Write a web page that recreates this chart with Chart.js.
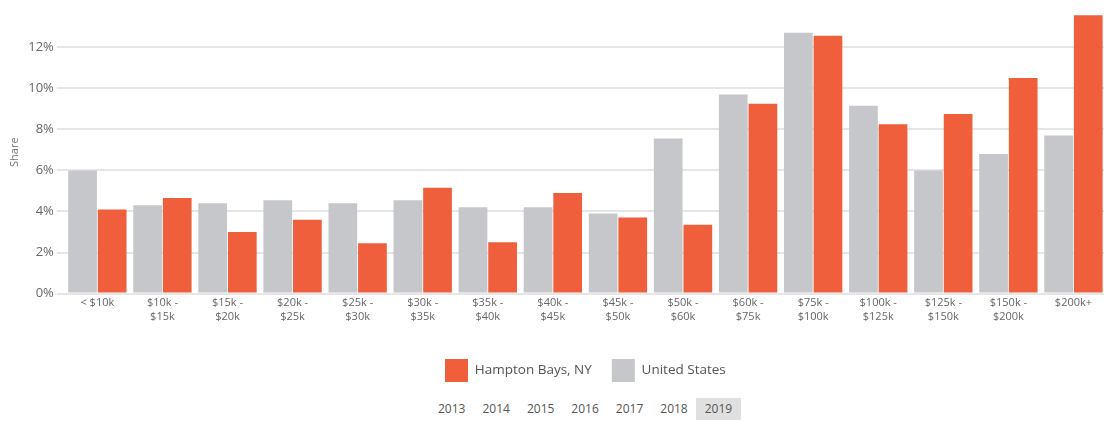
<!DOCTYPE html>
<html lang="en">
<head>
    <meta charset="UTF-8">
    <title>Household Income</title>
    <script src="https://cdn.jsdelivr.net/npm/chart.js"></script>
    <style>
        body { margin: 0; background: #fff; font-family: "Open Sans", Arial, sans-serif; overflow: hidden; }
        .grafico { position: relative; width: 1106px; height: 392px; }
        .anos { position: absolute; top: 398px; left: 429px; font-size: 12px; color: #555; white-space: nowrap; }
        .anos span { display: inline-block; padding: 3px 9px; margin-right: -1px; line-height: 16px; }
        .anos span.activo { background: #e0e0e0; }
    </style>
</head>
<body>
    <div class="grafico"><canvas id="grafico"></canvas></div>
    <div class="anos">
        <span>2013</span><span>2014</span><span>2015</span><span>2016</span><span>2017</span><span>2018</span><span class="activo">2019</span>
    </div>

    <script>
        const categorias = [
            "< $10k", ["$10k -", "$15k"], ["$15k -", "$20k"], ["$20k -", "$25k"], ["$25k -", "$30k"],
            ["$30k -", "$35k"], ["$35k -", "$40k"], ["$40k -", "$45k"], ["$45k -", "$50k"], ["$50k -", "$60k"],
            ["$60k -", "$75k"], ["$75k -", "$100k"], ["$100k -", "$125k"], ["$125k -", "$150k"], ["$150k -", "$200k"], "$200k+"
        ];
        const estadosUnidos = [6.0, 4.3, 4.4, 4.55, 4.4, 4.55, 4.2, 4.2, 3.9, 7.55, 9.7, 12.7, 9.15, 6.0, 6.8, 7.7];
        const hamptonBays = [4.1, 4.65, 3.0, 3.6, 2.45, 5.15, 2.5, 4.9, 3.7, 3.35, 9.25, 12.55, 8.25, 8.75, 10.5, 13.55];
        const ticksY = [0, 2, 4, 6, 8, 10, 12];

        let ctx = document.getElementById('grafico').getContext('2d');
        let chart = new Chart(ctx, {
            type: 'bar',
            data: {
                labels: categorias,
                datasets: [
                    { label: 'United States', data: estadosUnidos, backgroundColor: '#c6c7cb' },
                    { label: 'Hampton Bays, NY', data: hamptonBays, backgroundColor: '#ef5f3c' }
                ]
            },
            options: {
                responsive: true,
                maintainAspectRatio: false,
                animation: false,
                categoryPercentage: 0.91,
                barPercentage: 0.97,
                layout: { padding: { left: 4, right: 0, top: 0 } },
                plugins: {
                    tooltip: { enabled: false },
                    legend: {
                        position: 'bottom',
                        fullSize: false,
                        reverse: true,
                        labels: {
                            boxWidth: 23, boxHeight: 23, padding: 20,
                            color: '#555', font: { family: 'Open Sans', size: 13.5 }
                        }
                    }
                },
                scales: {
                    x: {
                        grid: { display: false, drawTicks: false },
                        border: { display: false },
                        afterFit: axis => { axis.height += 13; },
                        ticks: { color: '#666', font: { family: 'Open Sans', size: 11 }, maxRotation: 0, autoSkip: false, padding: 3 }
                    },
                    y: {
                        min: 0, max: 13.77,
                        afterBuildTicks: axis => { axis.ticks = ticksY.map(v => ({ value: v })); },
                        grid: { color: '#e6e6e6', lineWidth: 2, drawTicks: true, tickLength: 8 },
                        border: { display: false },
                        ticks: { color: '#666', font: { family: 'Open Sans', size: 13 }, padding: 3, callback: v => v + '%' },
                        title: { display: true, text: 'Share', color: '#777', font: { family: 'Open Sans', size: 11 }, padding: 4 }
                    }
                }
            }
        });
    </script>
</body>
</html>
